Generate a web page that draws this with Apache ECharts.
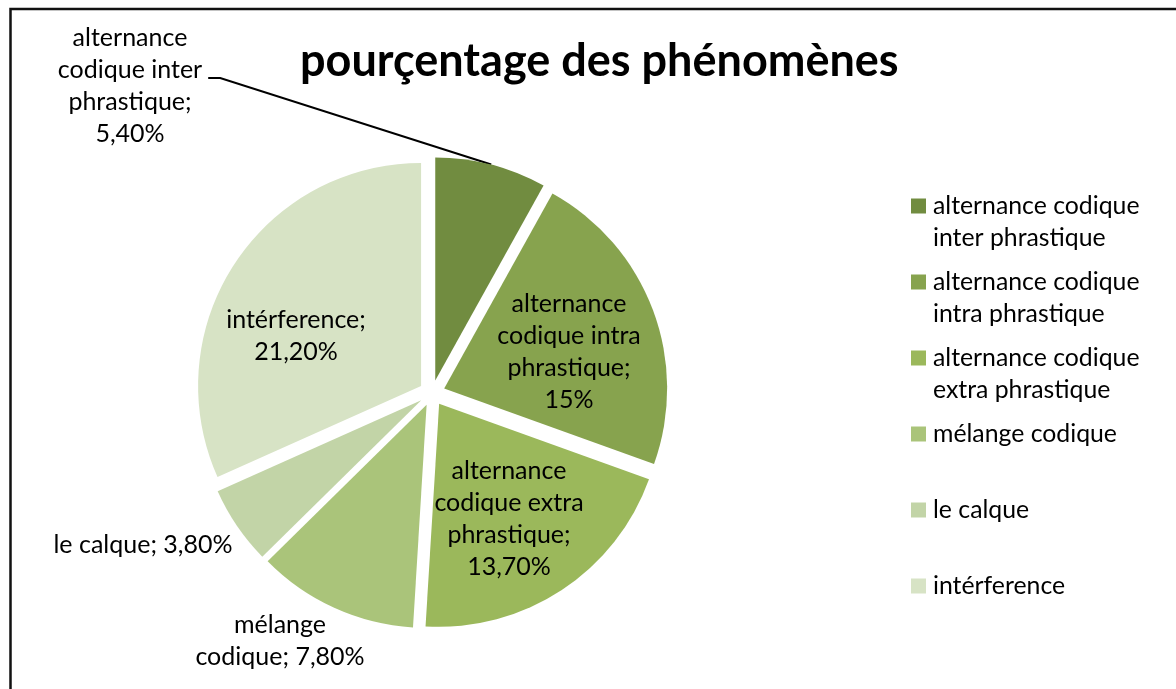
<!DOCTYPE html>
<html>
<head>
<meta charset="utf-8">
<script src="https://cdn.jsdelivr.net/npm/echarts@6/dist/echarts.min.js"></script>
<style>
  html, body { margin: 0; padding: 0; background: #fff; overflow: hidden; }
  #chart { width: 1176px; height: 689px; }
</style>
</head>
<body>
<div id="chart"></div>
<script>
// Share of each phenomenon, in percent
const chartTitle = 'pourçentage des phénomènes';
const categories = [
  'alternance codique inter phrastique',
  'alternance codique intra phrastique',
  'alternance codique extra phrastique',
  'mélange codique',
  'le calque',
  'intérference'
];
const values = [5.4, 15, 13.7, 7.8, 3.8, 21.2];
const sliceColors = ['#718c40', '#87a34e', '#9bb85b', '#aac47a', '#c2d4a7', '#d7e3c5'];

// Wrapped names used in the slice labels, and the break placed before the value
const labelNames = [
  'alternance\ncodique inter\nphrastique',
  'alternance\ncodique intra\nphrastique',
  'alternance\ncodique extra\nphrastique',
  'mélange\ncodique',
  'le calque',
  'intérference'
];
const labelBreaks = ['\n', '\n', '\n', ' ', ' ', '\n'];

// Wrapped names used in the legend
const legendNames = [
  'alternance codique\ninter phrastique',
  'alternance codique\nintra phrastique',
  'alternance codique\nextra phrastique',
  'mélange codique',
  'le calque',
  'intérference'
];

const FONT = 'Lato, "Open Sans", sans-serif';
const LINE = 32;
const PIE_CENTER = [432, 393];
const PIE_RADIUS = 223;
const EXPLODE = 13;

// Centre of each slice label's text block
const labelSpots = [[130, 86], [569, 352], [509, 519], [280, 641], [143, 545], [296, 336]];

function formatPercent(v) {
  return Number.isInteger(v) ? v + '%' : v.toFixed(2).replace('.', ',') + '%';
}

const chart = echarts.init(document.getElementById('chart'), null, { renderer: 'canvas' });

chart.setOption({
  animation: false,
  backgroundColor: '#ffffff',
  graphic: [{
    type: 'rect',
    silent: true,
    z: -10,
    shape: { x: 10.5, y: 9, width: 1200, height: 700 },
    style: { fill: 'none', stroke: '#111', lineWidth: 2.5 }
  }],
  title: {
    text: chartTitle,
    left: 300,
    top: 39,
    padding: 0,
    textStyle: { fontFamily: FONT, fontSize: 45, fontWeight: 'bold', color: '#000' }
  },
  legend: {
    orient: 'vertical',
    left: 911,
    top: 158,
    padding: 0,
    itemWidth: 15,
    itemHeight: 15,
    itemGap: -20,
    icon: 'rect',
    selectedMode: false,
    data: categories.map((name, i) => ({
      name: name,
      textStyle: {
        padding: legendNames[i].indexOf('\n') >= 0 ? [0, 0, 0, 2] : [LINE, 0, LINE, 2]
      }
    })),
    // two-line entries get an empty first line so their first line sits beside the swatch
    formatter: name => {
      const t = legendNames[categories.indexOf(name)];
      return t.indexOf('\n') >= 0 ? '\n' + t : t;
    },
    textStyle: {
      fontFamily: FONT,
      fontSize: 24.8,
      lineHeight: LINE,
      color: '#000',
      backgroundColor: 'rgba(0,0,0,0)'
    }
  },
  series: [
    {
      // exploded slices
      type: 'pie',
      center: PIE_CENTER,
      radius: PIE_RADIUS,
      startAngle: 90,
      clockwise: true,
      selectedMode: 'multiple',
      selectedOffset: EXPLODE,
      emphasis: { disabled: true },
      silent: true,
      label: { show: false },
      labelLine: { show: false },
      itemStyle: { borderWidth: 0 },
      data: categories.map((name, i) => ({
        name: name,
        value: values[i],
        selected: true,
        itemStyle: { color: sliceColors[i] }
      }))
    },
    {
      // slice labels, laid over the same pie
      type: 'pie',
      center: PIE_CENTER,
      radius: PIE_RADIUS,
      startAngle: 90,
      clockwise: true,
      silent: true,
      legendHoverLink: false,
      avoidLabelOverlap: false,
      emphasis: { disabled: true },
      itemStyle: { color: 'rgba(0,0,0,0)', borderWidth: 0 },
      data: categories.map((name, i) => ({
        name: name,
        value: values[i],
        labelLine: { show: i === 0 }
      })),
      label: {
        position: 'outside',
        color: '#000',
        fontFamily: FONT,
        fontSize: 25,
        lineHeight: LINE,
        align: 'center',
        formatter: p => labelNames[p.dataIndex] + ';' + labelBreaks[p.dataIndex] + formatPercent(p.value)
      },
      labelLine: {
        lineStyle: { color: '#000', width: 2 },
        length: 10,
        length2: 10
      },
      labelLayout: function (p) {
        const spot = labelSpots[p.dataIndex];
        const out = { x: spot[0], y: spot[1], align: 'center', verticalAlign: 'middle' };
        if (p.dataIndex === 0 && p.labelLinePoints) {
          // start the leader on the exploded slice's rim
          const p0 = p.labelLinePoints[0];
          const dx = p0[0] - PIE_CENTER[0];
          const dy = p0[1] - PIE_CENTER[1];
          const len = Math.sqrt(dx * dx + dy * dy) || 1;
          const start = [p0[0] + dx / len * EXPLODE, p0[1] + dy / len * EXPLODE];
          const right = spot[0] + p.labelRect.width / 2;
          out.labelLinePoints = [start, [right + 18, spot[1] - 8], [right + 6, spot[1] - 8]];
        }
        return out;
      }
    }
  ]
});
</script>
</body>
</html>
